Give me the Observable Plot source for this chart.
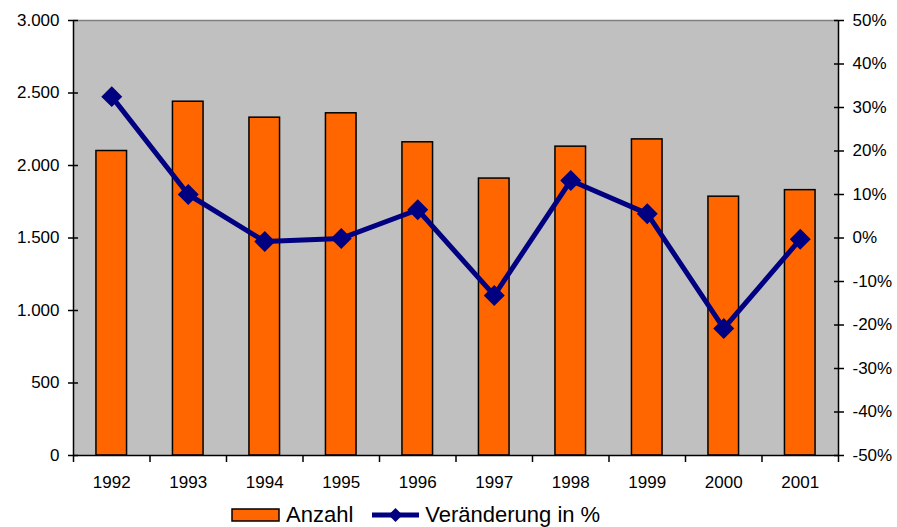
<!DOCTYPE html>
<html>
<head>
<meta charset="utf-8">
<script src="https://cdn.jsdelivr.net/npm/d3@7"></script>
<script src="https://cdn.jsdelivr.net/npm/@observablehq/plot@0.6"></script>
<style>
  body { margin: 0; background: #fff; font-family: "Liberation Sans", Arial, sans-serif; }
  #wrap { position: relative; width: 897px; height: 527px; }
  #legend { position: absolute; left: 231px; top: 502px; display: flex; align-items: center; font-size: 22px; color: #000; line-height: 26px; }
  #legend .item { display: flex; align-items: center; margin-right: 6px; }
</style>
</head>
<body>
<div id="wrap">
  <div id="chart"></div>
  <div id="legend"></div>
</div>
<script>
const years = ["1992","1993","1994","1995","1996","1997","1998","1999","2000","2001"];
const anzahl = [2100, 2440, 2330, 2360, 2160, 1910, 2130, 2180, 1785, 1830];
const veraenderung = [32.5, 10, -0.8, -0.1, 6.5, -13.2, 13.2, 5.6, -20.8, -0.3];
const leftTicks = [0, 500, 1000, 1500, 2000, 2500, 3000];
const rightTicks = [-50, -40, -30, -20, -10, 0, 10, 20, 30, 40, 50];
const seriesNames = ["Anzahl", "Veränderung in %"];

const W = 897, H = 490, ML = 73, MR = 59, MT = 20, MB = 35;
const step = (W - ML - MR) / years.length;
const yMax = 3000;
const pctToY = p => (p + 50) / 100 * yMax;

const de = d3.formatLocale({decimal: ",", thousands: ".", grouping: [3], currency: ["", "€"]});
const fmtDe = de.format(",");

const bars = years.map((y, i) => ({year: y, value: anzahl[i]}));
const pts = years.map((y, i) => ({year: y, pct: veraenderung[i]}));

const chart = Plot.plot({
  width: W, height: H,
  marginLeft: ML, marginRight: MR, marginTop: MT, marginBottom: MB,
  style: {fontFamily: "Liberation Sans, Arial, sans-serif", fontSize: "17px", color: "#000", background: "#fff", overflow: "visible"},
  x: {domain: years, paddingInner: 0.6, paddingOuter: 0.3, round: false, axis: null, label: null},
  y: {domain: [0, yMax], axis: null, label: null},
  marks: [
    Plot.frame({fill: "#c0c0c0", stroke: null}),
    Plot.ruleY([yMax], {stroke: "#808080", strokeWidth: 1.5}),
    Plot.barY(bars, {x: "year", y: "value", fill: "#ff6600", stroke: "#000", strokeWidth: 1.5}),
    Plot.line(pts, {x: "year", y: d => pctToY(d.pct), stroke: "#000080", strokeWidth: 5}),
    Plot.dot(pts, {x: "year", y: d => pctToY(d.pct), symbol: "diamond2", r: 8.5, fill: "#000080", stroke: "#000080"}),
    Plot.ruleY([0], {stroke: "#000", strokeWidth: 1.5}),
    Plot.ruleX([years[0]], {dx: -step / 2, stroke: "#000", strokeWidth: 1.5}),
    Plot.ruleX([years[years.length - 1]], {dx: step / 2, stroke: "#000", strokeWidth: 1.5}),
    // left axis
    Plot.axisY({anchor: "left", label: null, ticks: leftTicks, tickFormat: fmtDe, tickSize: 5, tickPadding: 9, fontSize: 17, stroke: "#000", strokeWidth: 1.5}),
    Plot.axisY({anchor: "left", label: null, ticks: leftTicks, tickSize: 5, dx: 5, text: null, stroke: "#000", strokeWidth: 1.5}),
    // right axis (percent)
    Plot.axisY({anchor: "right", label: null, ticks: rightTicks.map(pctToY), tickFormat: d => Math.round(d / yMax * 100 - 50) + "%", tickSize: 5, tickPadding: 9, fontSize: 17, stroke: "#000", strokeWidth: 1.5}),
    Plot.axisY({anchor: "right", label: null, ticks: rightTicks.map(pctToY), tickSize: 5, dx: -5, text: null, stroke: "#000", strokeWidth: 1.5}),
    // x axis labels & boundary ticks
    Plot.axisX({label: null, ticks: years, tickSize: 0, tickPadding: 20, fontSize: 17}),
    Plot.axisX({label: null, ticks: years, tickSize: 7, text: null, dx: -step / 2, stroke: "#000", strokeWidth: 1.5}),
    Plot.axisX({label: null, ticks: [years[years.length - 1]], tickSize: 7, text: null, dx: step / 2, stroke: "#000", strokeWidth: 1.5})
  ]
});
document.getElementById("chart").appendChild(chart);

const legend = document.getElementById("legend");
legend.innerHTML = `
  <div class="item"><svg width="50" height="16" style="margin-right:5px"><rect x="1" y="2" width="47" height="12" fill="#ff6600" stroke="#000" stroke-width="1.5"/></svg><span>${seriesNames[0]}</span></div>
  <div class="item" style="margin-left:12px"><svg width="50" height="16" style="margin-right:4px"><line x1="1" y1="8" x2="48" y2="8" stroke="#000080" stroke-width="5"/><path d="M24.5,1 L31.5,8 L24.5,15 L17.5,8 Z" fill="#000080"/></svg><span>${seriesNames[1]}</span></div>
`;
</script>
</body>
</html>
